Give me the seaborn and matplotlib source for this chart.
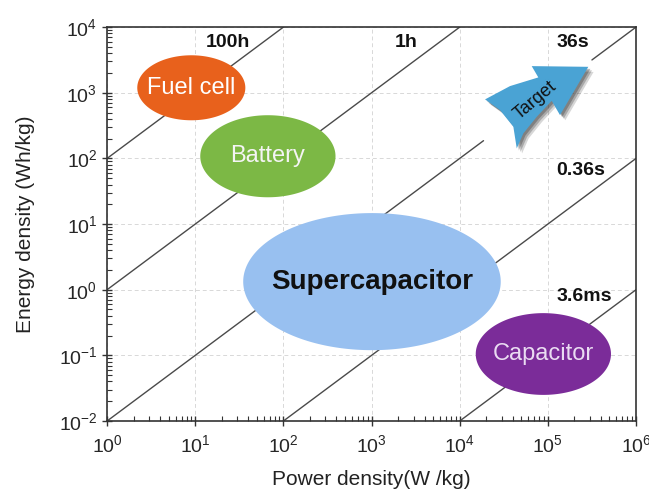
import numpy as np
import pandas as pd
import matplotlib
matplotlib.use("Agg")
import matplotlib.pyplot as plt
import seaborn as sns
from matplotlib.patches import Polygon

# ---------------- data ----------------
# discharge-time iso-lines: E (Wh/kg) = P (W/kg) * t (h)
time_hours = [100, 1, 0.01, 1e-4, 1e-6]
time_labels = ["100h", "1h", "36s", "0.36s", "3.6ms"]

# device regions (power range W/kg, energy range Wh/kg)
devices = ["Fuel cell", "Battery", "Supercapacitor", "Capacitor"]
power_lo = [2.2, 11.4, 35, 15200]
power_hi = [37, 390, 29200, 520000]
energy_lo = [381, 25.6, 0.12, 0.025]
energy_hi = [3724, 455, 14.7, 0.44]

x_ticks = [1e0, 1e1, 1e2, 1e3, 1e4, 1e5, 1e6]
y_ticks = [1e-2, 1e-1, 1e0, 1e1, 1e2, 1e3, 1e4]

# ---------------- style ----------------
sns.set_style("white")
plt.rcParams["font.family"] = ["Liberation Sans", "DejaVu Sans"]
plt.rcParams["mathtext.fontset"] = "custom"
plt.rcParams["mathtext.rm"] = "Liberation Sans"
plt.rcParams["mathtext.it"] = "Liberation Sans:italic"
plt.rcParams["mathtext.bf"] = "Liberation Sans:bold"

dev_colors = ["#e8611c", "#7cb845", "#98c0f0", "#7b2c99"]
dev_text_colors = ["white", "#f4f4f4", "#111111", "#eadcf2"]
dev_font = [17, 17, 20, 17]
dev_weight = ["normal", "normal", "bold", "normal"]

fig = plt.figure(figsize=(6.49, 4.93), dpi=100)
ax = fig.add_axes([0.165, 0.146, 0.815, 0.799])
ax.set_xscale("log")
ax.set_yscale("log")
ax.set_xlim(1e0, 1e6)
ax.set_ylim(1e-2, 1e4)

# grid
ax.grid(True, which="major", linestyle=(0, (4, 3)), color="#d8d8d8", linewidth=0.7)
ax.set_axisbelow(True)

# ---------------- iso-time lines ----------------
rows = []
gap_36s = (10 ** 4.27, 10 ** 5.5)  # line interrupted behind the target arrow
for t, lab in zip(time_hours, time_labels):
    if lab == "36s":
        segs = [(1e0, gap_36s[0]), (gap_36s[1], 1e6)]
    else:
        segs = [(1e0, 1e6)]
    for i, (p0, p1) in enumerate(segs):
        for p in (p0, p1):
            rows.append({"P": p, "E": p * t, "seg": f"{lab}_{i}"})
lines_df = pd.DataFrame(rows)
sns.lineplot(data=lines_df, x="P", y="E", units="seg", estimator=None,
             color="#4a4a4a", linewidth=1.0, ax=ax, legend=False, zorder=2)

# time labels (positions in log-decades)
time_label_pos = [(1.375, 3.77), (3.39, 3.77), (5.28, 3.77), (5.375, 1.82), (5.41, -0.11)]
for lab, (lx, ly) in zip(time_labels, time_label_pos):
    ax.text(10 ** lx, 10 ** ly, lab, fontsize=14, fontweight="bold",
            ha="center", va="center", color="#111111", zorder=5)

# ---------------- device ellipses ----------------
theta = np.linspace(0, 2 * np.pi, 300)
for name, pl, ph, el, eh, c, tc, fs, fw in zip(devices, power_lo, power_hi, energy_lo,
                                                energy_hi, dev_colors, dev_text_colors,
                                                dev_font, dev_weight):
    cx = (np.log10(pl) + np.log10(ph)) / 2
    cy = (np.log10(el) + np.log10(eh)) / 2
    rx = (np.log10(ph) - np.log10(pl)) / 2
    ry = (np.log10(eh) - np.log10(el)) / 2
    ax.fill(10 ** (cx + rx * np.cos(theta)), 10 ** (cy + ry * np.sin(theta)),
            color=c, lw=0, zorder=3)
    ax.text(10 ** cx, 10 ** cy, name, fontsize=fs, fontweight=fw, color=tc,
            ha="center", va="center", zorder=4)

# ---------------- target arrow (axes fraction) ----------------
arrow_pts = [(0.7146, 0.8165), (0.7618, 0.8503), (0.8153, 0.8723), (0.8028, 0.9010),
             (0.9098, 0.8992), (0.8563, 0.7766), (0.8406, 0.8129), (0.8123, 0.7723),
             (0.7870, 0.7302), (0.7745, 0.6921), (0.7681, 0.7470), (0.7429, 0.7893)]
for k, a in ((0.010, 0.18), (0.007, 0.25), (0.004, 0.3)):
    shadow = Polygon([(x + k, y - 1.3 * k) for x, y in arrow_pts], closed=True,
                     transform=ax.transAxes, facecolor="#222222", alpha=a, lw=0, zorder=5)
    ax.add_patch(shadow)
arrow = Polygon(arrow_pts, closed=True, transform=ax.transAxes,
                facecolor="#4aa3d4", edgecolor="none", zorder=6)
ax.add_patch(arrow)
ax.text(0.809, 0.815, "Target", transform=ax.transAxes, rotation=40, fontsize=13,
        ha="center", va="center", color="#111111", zorder=7)

# ---------------- axes ----------------
ax.set_xticks(x_ticks)
ax.set_yticks(y_ticks)
ax.tick_params(which="major", direction="inout", length=7, width=1.0, labelsize=14,
               color="#333333", bottom=True, left=True, top=False, right=False)
ax.tick_params(which="minor", direction="in", length=3.5, width=0.8,
               color="#333333", bottom=True, left=True, top=False, right=False)
ax.tick_params(axis="x", pad=6)
for s in ax.spines.values():
    s.set_color("#333333")
    s.set_linewidth(1.2)
ax.set_xlabel("Power density(W /kg)", fontsize=15, color="#222222", labelpad=10)
ax.set_ylabel("Energy density (Wh/kg)", fontsize=15, color="#222222", labelpad=17)

fig.savefig("out.png", dpi=100)
